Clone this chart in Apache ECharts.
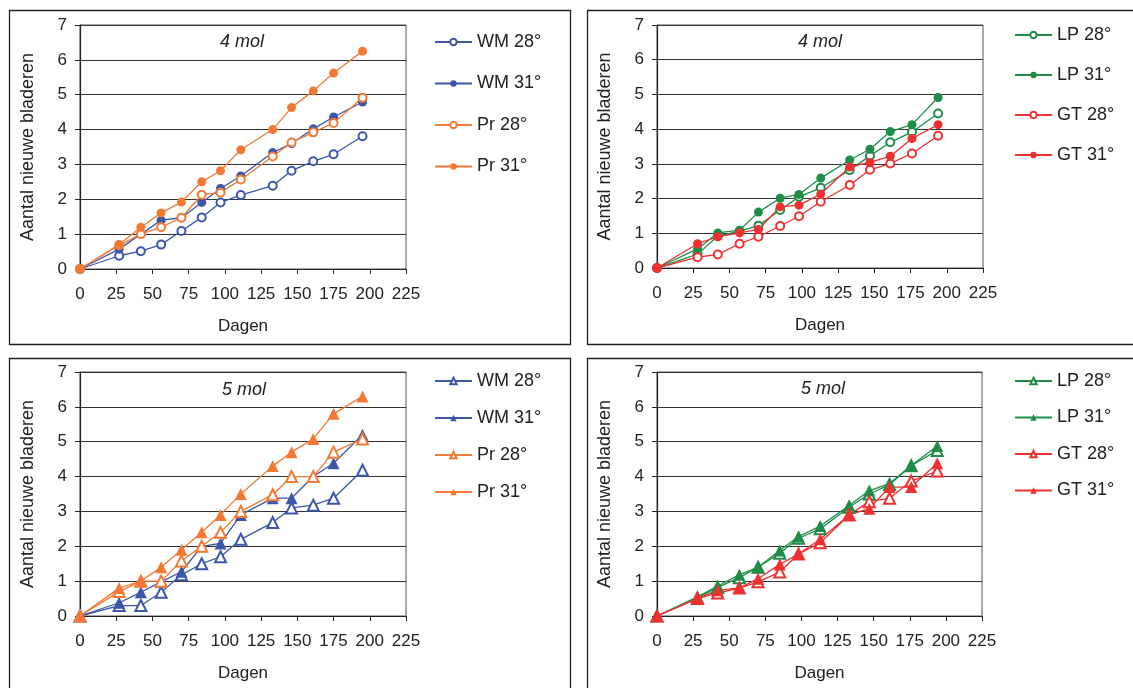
<!DOCTYPE html>
<html>
<head>
<meta charset="utf-8">
<script src="https://cdn.jsdelivr.net/npm/echarts@6/dist/echarts.min.js"></script>
<style>
html,body{margin:0;padding:0;background:#fff;}
#c{width:1133px;height:688px;}
</style>
</head>
<body>
<div id="c"></div>
<script>
// ---- data ----
var daysA = [0, 27, 42, 56, 70, 84, 97, 111, 133, 146, 161, 175, 195];
var daysB = [0, 28, 42, 57, 70, 85, 98, 113, 133, 147, 161, 176, 194];
var xTicks = [0, 25, 50, 75, 100, 125, 150, 175, 200, 225];
var yTicks = [0, 1, 2, 3, 4, 5, 6, 7];
var panelTitles = ['4 mol', '4 mol', '5 mol', '5 mol'];

// 4 mol, WM / Pr
var wm28_4 = [0, 0.38, 0.51, 0.70, 1.09, 1.48, 1.91, 2.12, 2.39, 2.82, 3.09, 3.29, 3.81];
var wm31_4 = [0, 0.57, 1.00, 1.40, 1.47, 1.91, 2.31, 2.67, 3.34, 3.60, 4.02, 4.36, 4.79];
var pr28_4 = [0, 0.68, 1.00, 1.20, 1.47, 2.13, 2.19, 2.57, 3.23, 3.63, 3.92, 4.19, 4.91];
var pr31_4 = [0, 0.70, 1.20, 1.61, 1.92, 2.50, 2.82, 3.42, 4.00, 4.63, 5.11, 5.62, 6.25];
// 4 mol, LP / GT
var lp28_4 = [0, 0.40, 0.92, 1.06, 1.22, 1.67, 2.05, 2.31, 2.82, 3.23, 3.62, 3.92, 4.45];
var lp31_4 = [0, 0.55, 1.01, 1.09, 1.61, 2.01, 2.12, 2.59, 3.11, 3.42, 3.93, 4.13, 4.91];
var gt28_4 = [0, 0.31, 0.39, 0.70, 0.90, 1.21, 1.49, 1.91, 2.39, 2.83, 3.01, 3.30, 3.81];
var gt31_4 = [0, 0.70, 0.90, 1.01, 1.11, 1.76, 1.81, 2.13, 2.91, 3.04, 3.22, 3.73, 4.13];
// 5 mol, WM / Pr
var wm28_5 = [0, 0.30, 0.30, 0.68, 1.18, 1.50, 1.70, 2.20, 2.68, 3.10, 3.18, 3.38, 4.18];
var wm31_5 = [0, 0.38, 0.68, 0.98, 1.27, 2.00, 2.08, 2.90, 3.38, 3.38, 4.00, 4.38, 5.20];
var pr28_5 = [0, 0.70, 1.00, 1.00, 1.58, 2.00, 2.40, 3.00, 3.48, 4.00, 4.00, 4.70, 5.08];
var pr31_5 = [0, 0.80, 1.00, 1.40, 1.90, 2.40, 2.90, 3.50, 4.30, 4.70, 5.08, 5.80, 6.30];
// 5 mol, LP / GT
var lp28_5 = [0, 0.52, 0.82, 1.10, 1.40, 1.80, 2.23, 2.50, 3.12, 3.50, 3.77, 4.31, 4.75];
var lp31_5 = [0, 0.55, 0.86, 1.18, 1.40, 1.88, 2.28, 2.58, 3.17, 3.60, 3.80, 4.32, 4.88];
var gt28_5 = [0, 0.50, 0.66, 0.80, 0.98, 1.26, 1.78, 2.10, 2.90, 3.28, 3.38, 3.87, 4.16];
var gt31_5 = [0, 0.50, 0.74, 0.80, 1.07, 1.48, 1.78, 2.20, 2.90, 3.08, 3.70, 3.70, 4.38];

// ---- styles ----
var BLUE = '#3c57a8', ORANGE = '#f47934', GREEN = '#1f8d48', RED = '#ee3030';
var TXT = '#222';
var FONT = 'Liberation Sans, Arial, sans-serif';

var grids = [
  {left: 80, top: 25, width: 326, height: 244},
  {left: 657, top: 25, width: 326, height: 243},
  {left: 80, top: 372, width: 326, height: 244},
  {left: 657, top: 372, width: 325, height: 244}
];

function pairs(days, vals) {
  return days.map(function (d, i) { return [d, vals[i]]; });
}

var xAxes = [], yAxes = [];
grids.forEach(function (g, i) {
  g.show = true; g.borderColor = '#555'; g.borderWidth = 1; g.containLabel = false;
  xAxes.push({
    type: 'value', gridIndex: i, min: xTicks[0], max: xTicks[xTicks.length - 1],
    interval: xTicks[1] - xTicks[0],
    name: 'Dagen', nameLocation: 'middle', nameGap: 49,
    nameTextStyle: {fontSize: 17, color: TXT, fontFamily: FONT},
    axisLine: {show: true, onZero: false, lineStyle: {color: '#222', width: 1.2}},
    axisTick: {show: true, length: 5, lineStyle: {color: '#222'}},
    axisLabel: {fontSize: 17, color: TXT, fontFamily: FONT, margin: 17, showMinLabel: true, showMaxLabel: true},
    splitLine: {show: false}
  });
  yAxes.push({
    type: 'value', gridIndex: i, min: yTicks[0], max: yTicks[yTicks.length - 1], interval: 1,
    name: 'Aantal nieuwe bladeren', nameLocation: 'middle', nameGap: 43,
    nameTextStyle: {fontSize: 18, color: TXT, fontFamily: FONT},
    axisLine: {show: true, lineStyle: {color: '#222', width: 1.2}},
    axisTick: {show: true, length: 5, lineStyle: {color: '#222'}},
    axisLabel: {fontSize: 17, color: TXT, fontFamily: FONT, margin: 13},
    splitLine: {show: true, lineStyle: {color: '#333', width: 1}}
  });
});

function ser(name, idx, days, vals, color, symbol, size) {
  return {
    name: name, type: 'line', xAxisIndex: idx, yAxisIndex: idx,
    data: pairs(days, vals), symbol: symbol, symbolSize: size,
    showAllSymbol: true, animation: false,
    lineStyle: {color: color, width: 1.3},
    itemStyle: {color: color, borderWidth: 1.2}
  };
}

var series = [
  ser('WM 28°|a', 0, daysA, wm28_4, BLUE, 'emptyCircle', 8),
  ser('WM 31°|a', 0, daysA, wm31_4, BLUE, 'circle', 9),
  ser('Pr 28°|a', 0, daysA, pr28_4, ORANGE, 'emptyCircle', 8),
  ser('Pr 31°|a', 0, daysA, pr31_4, ORANGE, 'circle', 9),
  ser('LP 28°|b', 1, daysB, lp28_4, GREEN, 'emptyCircle', 8),
  ser('LP 31°|b', 1, daysB, lp31_4, GREEN, 'circle', 9),
  ser('GT 28°|b', 1, daysB, gt28_4, RED, 'emptyCircle', 8),
  ser('GT 31°|b', 1, daysB, gt31_4, RED, 'circle', 9),
  ser('WM 28°|c', 2, daysA, wm28_5, BLUE, 'emptyTriangle', 11),
  ser('WM 31°|c', 2, daysA, wm31_5, BLUE, 'triangle', 12),
  ser('Pr 28°|c', 2, daysA, pr28_5, ORANGE, 'emptyTriangle', 11),
  ser('Pr 31°|c', 2, daysA, pr31_5, ORANGE, 'triangle', 12),
  ser('LP 28°|d', 3, daysB, lp28_5, GREEN, 'emptyTriangle', 11),
  ser('LP 31°|d', 3, daysB, lp31_5, GREEN, 'triangle', 12),
  ser('GT 28°|d', 3, daysB, gt28_5, RED, 'emptyTriangle', 11),
  ser('GT 31°|d', 3, daysB, gt31_5, RED, 'triangle', 12)
];

var LEG_FS = 18;
function legend(suffix, names, left, firstY, step) {
  return {
    orient: 'vertical', left: left, top: firstY - LEG_FS / 2, itemWidth: 37, itemHeight: 8,
    itemGap: step - LEG_FS, padding: 0, selectedMode: false,
    data: names.map(function (n) { return n + '|' + suffix; }),
    formatter: function (n) { return n.split('|')[0]; },
    textStyle: {fontSize: LEG_FS, lineHeight: LEG_FS, color: TXT, fontFamily: FONT, padding: [0, 0, 0, 0]}
  };
}

var legends = [
  legend('a', ['WM 28°', 'WM 31°', 'Pr 28°', 'Pr 31°'], 434, 42, 41.5),
  legend('b', ['LP 28°', 'LP 31°', 'GT 28°', 'GT 31°'], 1014, 35, 40),
  legend('c', ['WM 28°', 'WM 31°', 'Pr 28°', 'Pr 31°'], 434, 381, 37),
  legend('d', ['LP 28°', 'LP 31°', 'GT 28°', 'GT 31°'], 1014, 381, 36.5)
];

var frames = [[9, 10, 561, 334], [587, 10, 560, 334], [9, 358, 561, 340], [587, 358, 560, 340]];
var titlePos = [[242, 42], [820, 42], [244, 390], [823, 389]];
var graphics = [];
frames.forEach(function (f) {
  graphics.push({type: 'rect', shape: {x: f[0] + 0.5, y: f[1] + 0.5, width: f[2], height: f[3]},
    style: {fill: null, stroke: '#222', lineWidth: 1.3}, z: -1, silent: true});
});
titlePos.forEach(function (p, i) {
  graphics.push({type: 'text', x: p[0], y: p[1], silent: true,
    style: {text: panelTitles[i], fill: TXT, font: 'italic 18px ' + FONT, align: 'center', verticalAlign: 'middle'}});
});

var chart = echarts.init(document.getElementById('c'), null, {renderer: 'canvas'});
chart.setOption({
  animation: false,
  backgroundColor: '#fff',
  textStyle: {fontFamily: FONT},
  grid: grids, xAxis: xAxes, yAxis: yAxes, legend: legends, series: series, graphic: graphics
});
</script>
</body>
</html>
